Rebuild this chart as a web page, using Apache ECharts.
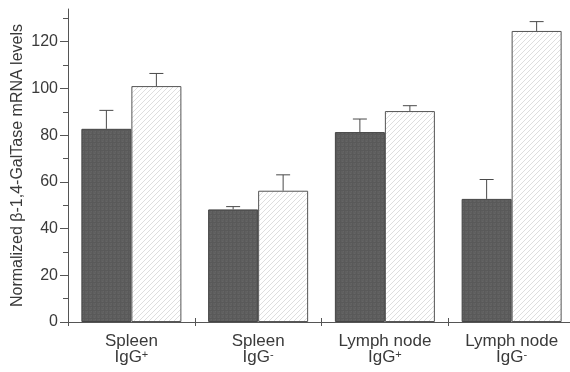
<!DOCTYPE html>
<html>
<head>
<meta charset="utf-8">
<script src="https://cdn.jsdelivr.net/npm/echarts@6/dist/echarts.min.js"></script>
<style>html,body{margin:0;padding:0;background:#fff;}#c{width:570px;height:372px;}</style>
</head>
<body>
<div id="c"></div>
<script>
// ---- data ----
var catNames = ['Spleen', 'Spleen', 'Lymph node', 'Lymph node'];
var catSup = ['+', '-', '+', '-'];
var darkValues = [82.7, 48.2, 81.3, 52.7];
var darkErrors = [7.9, 1.2, 5.6, 8.3];
var lightValues = [101.0, 56.2, 90.3, 124.6];
var lightErrors = [5.4, 6.8, 2.3, 4.0];
var yMajorTicks = [0, 20, 40, 60, 80, 100, 120];
var yMinorTicks = [10, 30, 50, 70, 90, 110, 130];
var yAxisName = 'Normalized \u03b2-1,4-GalTase mRNA levels';

// ---- patterns ----
function hatchPattern() {
  var s = 5, c = document.createElement('canvas');
  c.width = s; c.height = s;
  var g = c.getContext('2d');
  g.fillStyle = '#ffffff'; g.fillRect(0, 0, s, s);
  g.strokeStyle = '#d6d6d6'; g.lineWidth = 0.8;
  g.beginPath();
  g.moveTo(0, s); g.lineTo(s, 0);
  g.moveTo(-1, 1); g.lineTo(1, -1);
  g.moveTo(s - 1, s + 1); g.lineTo(s + 1, s - 1);
  g.stroke();
  return c;
}
function darkPattern() {
  var s = 4, c = document.createElement('canvas');
  c.width = s; c.height = s;
  var g = c.getContext('2d');
  g.fillStyle = '#5f5f5f'; g.fillRect(0, 0, s, s);
  g.fillStyle = '#595959';
  g.fillRect(0, 0, 1, s); g.fillRect(0, 2, s, 1);
  g.fillStyle = '#656565';
  g.fillRect(2, 1, 1, 1); g.fillRect(3, 3, 1, 1);
  return c;
}

var BAR_W = 50;
function errSeries(values, errors, side) {
  var data = values.map(function (v, i) { return [i, v, errors[i]]; });
  return {
    type: 'custom',
    data: data,
    encode: { x: 0, y: 1 },
    z: 5,
    renderItem: function (params, api) {
      var i = api.value(0), v = api.value(1), e = api.value(2);
      var base = api.coord([i, v]);
      var top = api.coord([i, v + e]);
      var x = base[0] + side * BAR_W / 2;
      var style = { stroke: '#4a4a4a', lineWidth: 1 };
      return {
        type: 'group',
        children: [
          { type: 'line', shape: { x1: x, y1: base[1], x2: x, y2: top[1] }, style: style },
          { type: 'line', shape: { x1: x - 7, y1: top[1], x2: x + 7, y2: top[1] }, style: style }
        ]
      };
    }
  };
}

var chart = echarts.init(document.getElementById('c'), null, { renderer: 'canvas' });
var axisColor = '#555555';
var textColor = '#3a3a3a';
var fontFam = '"Liberation Sans", Arial, Helvetica, sans-serif';
var labelTexts = catNames.map(function (n, i) { return n + '|' + catSup[i]; });

var yBase = {
  type: 'value', min: 0, max: 134, interval: 10,
  splitLine: { show: false }
};

chart.setOption({
  animation: false,
  backgroundColor: '#ffffff',
  grid: { left: 68, top: 9, bottom: 50, width: 507, containLabel: false, outerBoundsMode: 'none' },
  xAxis: [
    {
      type: 'category', data: labelTexts, boundaryGap: true,
      axisLine: { lineStyle: { color: axisColor, width: 1 } },
      axisTick: { show: true, length: 4, lineStyle: { color: axisColor } },
      axisLabel: {
        margin: 11, color: textColor, fontFamily: fontFam, fontSize: 17,
        interval: 0,
        formatter: function (val) {
          var p = val.split('|');
          return '{a|' + p[0] + '}\n{a|IgG}{s|' + p[1] + '}';
        },
        rich: {
          a: { fontSize: 17, lineHeight: 16.5, fontFamily: fontFam, color: textColor },
          s: { fontSize: 11, lineHeight: 16.5, fontFamily: fontFam, color: textColor, verticalAlign: 'top', padding: [0, 0, 5, 0] }
        }
      }
    },
    {
      type: 'category', data: labelTexts, boundaryGap: true, position: 'bottom',
      axisLine: { show: false },
      axisTick: { show: true, inside: true, length: 4, lineStyle: { color: axisColor } },
      axisLabel: { show: false }
    }
  ],
  yAxis: [
    Object.assign({}, yBase, {
      name: yAxisName, nameLocation: 'middle', nameGap: 42, nameMoveOverlap: false,
      nameTextStyle: { fontFamily: fontFam, fontSize: 16, color: textColor },
      axisLine: { show: true, lineStyle: { color: axisColor, width: 1 } },
      axisTick: { show: true, length: 8, customValues: yMajorTicks, lineStyle: { color: axisColor } },
      axisLabel: { margin: 10, customValues: yMajorTicks, fontFamily: fontFam, fontSize: 16, color: textColor }
    }),
    Object.assign({}, yBase, {
      position: 'left', offset: 0,
      axisLine: { show: false },
      axisTick: { show: true, length: 5, customValues: yMinorTicks, lineStyle: { color: axisColor } },
      axisLabel: { show: false }
    })
  ],
  series: [
    {
      type: 'bar', data: darkValues, barWidth: BAR_W, barGap: '0%',
      itemStyle: { color: { image: darkPattern(), repetition: 'repeat' }, borderColor: '#444444', borderWidth: 1 }
    },
    {
      type: 'bar', data: lightValues, barWidth: BAR_W, barGap: '0%',
      itemStyle: { color: { image: hatchPattern(), repetition: 'repeat' }, borderColor: '#555555', borderWidth: 1 }
    },
    errSeries(darkValues, darkErrors, -1),
    errSeries(lightValues, lightErrors, 1)
  ]
});
</script>
</body>
</html>
